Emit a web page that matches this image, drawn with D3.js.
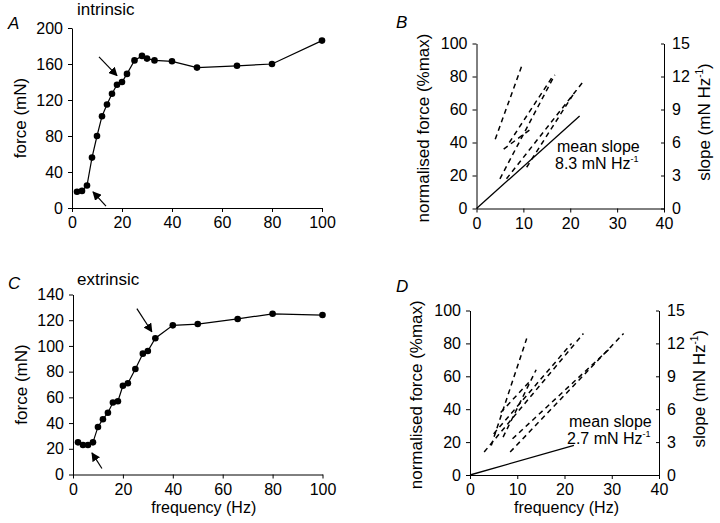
<!DOCTYPE html>
<html lang="en">
<head>
<meta charset="UTF-8">
<title>Force-frequency</title>
<script src="https://d3js.org/d3.v7.min.js"></script>
<style>
  body { margin: 0; background: #fff; }
  svg text { font-family: "Liberation Sans", Arial, sans-serif; fill: #000; }
  .axis path, .axis line { stroke: #000; stroke-width: 1; }
  .axis text { font-size: 16px; }
</style>
</head>
<body>
<svg width="720" height="523"></svg>
<script>
// frequency (Hz) of each stimulus train
const freqs = [2, 4, 6, 8, 10, 12, 14, 16, 18, 20, 22, 25, 28, 30, 33, 40, 50, 66, 80, 100];
// force (mN), intrinsic (A) and extrinsic (C)
const forceIntrinsic = [18, 19, 25, 56, 80, 102, 115, 127, 137, 140, 149, 164, 169, 166, 164, 163, 156, 158, 160, 186];
const forceExtrinsic = [25, 23, 23, 25, 37, 43, 48, 56, 57, 69, 71, 82, 94, 96, 106, 116, 117, 121, 125, 124];

// arrows [x1, y1, x2, y2] in data units
const arrowsA = [[10.8, 168, 18, 147], [13.6, 2, 8.4, 18]];
const arrowsC = [[25.6, 129, 31.6, 111], [11.6, 4.7, 7.6, 16.8]];

// fitted lines in B and D: [f1, %1, f2, %2]
const fitsB = [[4, 42, 9.6, 86], [5, 18, 16.7, 81], [6.4, 18, 22.8, 77], [10.7, 25, 20.6, 69], [5.8, 36, 11.5, 48], [7, 40, 16, 79]];
const meanB = [0, 0, 22, 56];
const fitsD = [[4.5, 18, 12, 83], [3, 14, 24, 86], [5, 25, 21.5, 80], [7, 23, 14, 64], [8.5, 14, 32.5, 86], [9, 22, 30, 78], [6.5, 38, 13, 58]];
const meanD = [0, 0, 22, 18];

const ticksForce = { A: [0, 40, 80, 120, 160, 200], C: [0, 20, 40, 60, 80, 100, 120, 140] };
const ticksFreq = [0, 20, 40, 60, 80, 100];
const ticksFreqShort = [0, 10, 20, 30, 40];
const ticksNorm = [0, 20, 40, 60, 80, 100];
const ticksSlope = [0, 3, 6, 9, 12, 15];

const svg = d3.select("svg");

svg.append("defs").append("marker")
  .attr("id", "head")
  .attr("viewBox", "0 0 10 10")
  .attr("refX", 9).attr("refY", 5)
  .attr("markerWidth", 9).attr("markerHeight", 9)
  .attr("markerUnits", "userSpaceOnUse")
  .attr("orient", "auto")
  .append("path").attr("d", "M0,0 L10,5 L0,10 Z").attr("fill", "#000");

function forcePanel(o) {
  const x = d3.scaleLinear().domain([0, 100]).range([o.x0, o.x1]);
  const y = d3.scaleLinear().domain([0, o.ymax]).range([o.y0, o.y1]);
  const g = svg.append("g");

  g.append("g").attr("class", "axis").attr("transform", `translate(0,${o.y0})`)
    .call(d3.axisBottom(x).tickValues(ticksFreq).tickSize(4).tickSizeOuter(0).tickPadding(5));
  g.append("g").attr("class", "axis").attr("transform", `translate(${o.x0},0)`)
    .call(d3.axisLeft(y).tickValues(o.ticks).tickSize(4).tickSizeOuter(0).tickPadding(5));

  const pts = freqs.map((f, i) => [f, o.force[i]]);
  g.append("path").datum(pts)
    .attr("fill", "none").attr("stroke", "#000").attr("stroke-width", 1.2)
    .attr("d", d3.line().x(d => x(d[0])).y(d => y(d[1])));
  g.selectAll("circle").data(pts).enter().append("circle")
    .attr("cx", d => x(d[0])).attr("cy", d => y(d[1])).attr("r", 3.3).attr("fill", "#000");

  g.selectAll(".arrow").data(o.arrows).enter().append("line")
    .attr("x1", d => x(d[0])).attr("y1", d => y(d[1]))
    .attr("x2", d => x(d[2])).attr("y2", d => y(d[3]))
    .attr("stroke", "#000").attr("stroke-width", 1.2).attr("marker-end", "url(#head)");

  g.append("text").attr("transform", `translate(${o.x0 - 46},${(o.y0 + o.y1) / 2}) rotate(-90)`)
    .attr("text-anchor", "middle").attr("font-size", 17).text("force (mN)");
  g.append("text").attr("x", 77).attr("y", o.titleY).attr("font-size", 17).text(o.title);
  g.append("text").attr("x", 8).attr("y", o.letterY).attr("font-size", 17).attr("font-style", "italic").text(o.letter);
  if (o.xlabel) {
    g.append("text").attr("x", (o.x0 + o.x1) / 2 + 6).attr("y", o.y0 + 38)
      .attr("text-anchor", "middle").attr("font-size", 16).text("frequency (Hz)");
  }
}

function slopePanel(o) {
  const x = d3.scaleLinear().domain([0, 40]).range([o.x0, o.x1]);
  const y = d3.scaleLinear().domain([0, 100]).range([o.y0, o.y1]);
  const yr = d3.scaleLinear().domain([0, 15]).range([o.y0, o.y1]);
  const g = svg.append("g");

  g.append("g").attr("class", "axis").attr("transform", `translate(0,${o.y0})`)
    .call(d3.axisBottom(x).tickValues(ticksFreqShort).tickSize(4).tickSizeOuter(0).tickPadding(5));
  g.append("g").attr("class", "axis").attr("transform", `translate(${o.x0},0)`)
    .call(d3.axisLeft(y).tickValues(ticksNorm).tickSize(4).tickSizeOuter(0).tickPadding(5));
  g.append("g").attr("class", "axis").attr("transform", `translate(${o.x1},0)`)
    .call(d3.axisRight(yr).tickValues(ticksSlope).tickSize(-3).tickSizeOuter(0).tickPadding(8));

  g.selectAll(".fit").data(o.fits).enter().append("line")
    .attr("x1", d => x(d[0])).attr("y1", d => y(d[1]))
    .attr("x2", d => x(d[2])).attr("y2", d => y(d[3]))
    .attr("stroke", "#000").attr("stroke-width", 1.5).attr("stroke-dasharray", "5,4");
  g.append("line")
    .attr("x1", x(o.mean[0])).attr("y1", y(o.mean[1]))
    .attr("x2", x(o.mean[2])).attr("y2", y(o.mean[3]))
    .attr("stroke", "#000").attr("stroke-width", 1.3);

  g.append("text").attr("x", o.textX).attr("y", o.textY).attr("font-size", 16).text("mean slope");
  const t = g.append("text").attr("x", o.textX - 2).attr("y", o.textY + 17).attr("font-size", 16);
  t.append("tspan").text(o.slopeText + " mN Hz");
  t.append("tspan").attr("font-size", 9).attr("dy", -7).text("-1");

  g.append("text").attr("transform", `translate(${o.x0 - 48},${(o.y0 + o.y1) / 2 + 2}) rotate(-90)`)
    .attr("text-anchor", "middle").attr("font-size", 17).text("normalised force (%max)");
  const r = g.append("text").attr("transform", `translate(${o.x1 + 46},${(o.y0 + o.y1) / 2 - 4}) rotate(-90)`)
    .attr("text-anchor", "middle").attr("font-size", 17);
  r.append("tspan").text("slope (mN Hz");
  r.append("tspan").attr("font-size", 10).attr("dy", -7).text("-1");
  r.append("tspan").attr("dy", 7).text(")");

  g.append("text").attr("x", 396).attr("y", o.letterY).attr("font-size", 17).attr("font-style", "italic").text(o.letter);
  if (o.xlabel) {
    g.append("text").attr("x", (o.x0 + o.x1) / 2 + 2).attr("y", o.y0 + 38)
      .attr("text-anchor", "middle").attr("font-size", 16).text("frequency (Hz)");
  }
}

forcePanel({ x0: 72, x1: 322, y0: 208, y1: 28, ymax: 200, ticks: ticksForce.A, force: forceIntrinsic,
  arrows: arrowsA, title: "intrinsic", titleY: 15, letter: "A", letterY: 29, xlabel: false });
forcePanel({ x0: 73, x1: 322.5, y0: 474.5, y1: 294.5, ymax: 140, ticks: ticksForce.C, force: forceExtrinsic,
  arrows: arrowsC, title: "extrinsic", titleY: 285, letter: "C", letterY: 289, xlabel: true });
slopePanel({ x0: 476.5, x1: 664, y0: 208.5, y1: 43.5, fits: fitsB, mean: meanB,
  textX: 557, textY: 152, slopeText: "8.3", letter: "B", letterY: 28, xlabel: false });
slopePanel({ x0: 470, x1: 659, y0: 475, y1: 310.5, fits: fitsD, mean: meanD,
  textX: 569, textY: 427, slopeText: "2.7", letter: "D", letterY: 292, xlabel: true });
</script>
</body>
</html>
